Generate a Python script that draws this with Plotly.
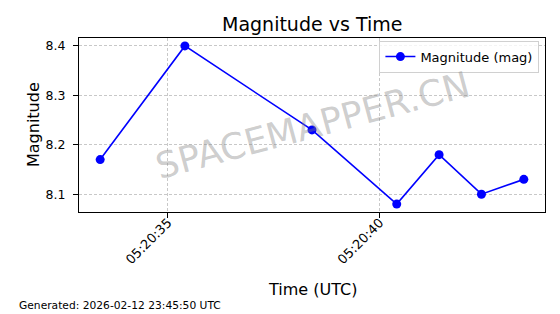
import plotly.graph_objects as go

times = ["2026-02-12 05:20:33.4", "2026-02-12 05:20:35.4", "2026-02-12 05:20:38.4",
         "2026-02-12 05:20:40.4", "2026-02-12 05:20:41.4", "2026-02-12 05:20:42.4",
         "2026-02-12 05:20:43.4"]
magnitudes = [8.17, 8.40, 8.23, 8.08, 8.18, 8.10, 8.13]
x_tick_vals = ["2026-02-12 05:20:35", "2026-02-12 05:20:40"]
x_tick_text = ["05:20:35", "05:20:40"]
y_tick_vals = [8.1, 8.2, 8.3, 8.4]
y_tick_text = ["8.1", "8.2", "8.3", "8.4"]

FONT = "DejaVu Sans"

fig = go.Figure()
fig.add_trace(go.Scatter(
    x=times, y=magnitudes, mode="lines+markers", name="Magnitude (mag)",
    line=dict(color="#0000ff", width=1.6),
    marker=dict(color="#0000ff", size=9),
))

fig.update_layout(
    width=560, height=314,
    margin=dict(l=79, r=15, t=38, b=102),
    paper_bgcolor="white", plot_bgcolor="white",
    font=dict(family=FONT, color="black", size=12),
    showlegend=True,
    legend=dict(x=0.988, y=0.985, xanchor="right", yanchor="top",
                bgcolor="rgba(255,255,255,0.8)", bordercolor="#d0d0d0", borderwidth=1,
                font=dict(size=13, family=FONT), itemwidth=30,
                tracegroupgap=0),
    xaxis=dict(
        type="date",
        range=["2026-02-12 05:20:32.9", "2026-02-12 05:20:43.9"],
        tickvals=x_tick_vals, ticktext=x_tick_text, tickangle=-45,
        showline=True, mirror=True, linecolor="black", linewidth=1,
        ticks="outside", ticklen=5, tickcolor="black",
        showgrid=True, gridcolor="#c8c8c8", griddash="3px,2px", gridwidth=0.8,
        zeroline=False, tickfont=dict(size=13, family=FONT),
        ticklabelstandoff=-8, automargin=False,
    ),
    yaxis=dict(
        range=[8.064, 8.416],
        tickvals=y_tick_vals, ticktext=y_tick_text,
        showline=True, mirror=True, linecolor="black", linewidth=1,
        ticks="outside", ticklen=5, tickcolor="black",
        showgrid=True, gridcolor="#c8c8c8", griddash="3px,2px", gridwidth=0.8,
        zeroline=False, tickfont=dict(size=12.5, family=FONT),
        ticklabelstandoff=5, automargin=False,
    ),
)

annotations = [
    dict(text="Magnitude vs Time", x=0.5, y=1, xref="paper", yref="paper",
         xanchor="center", yanchor="bottom", yshift=1, showarrow=False,
         font=dict(size=19, family=FONT)),
    dict(text="Magnitude", x=33, y=125, showarrow=False, textangle=-90,
         font=dict(size=16, family=FONT)),
    dict(text="Time (UTC)", x=312, y=289, showarrow=False,
         font=dict(size=16, family=FONT)),
    dict(text="Generated: 2026-02-12 23:45:50 UTC", x=17, y=305,
         xanchor="left", showarrow=False, font=dict(size=10.7, family=FONT)),
    dict(text="SPACEMAPPER.CN", x=0.5, y=0.5, showarrow=False, textangle=-15,
         font=dict(size=36, family=FONT, color="rgba(128,128,128,0.4)")),
]
# convert pixel positions to paper coordinates
pw, ph = 560 - 79 - 15, 314 - 38 - 102
for a in annotations:
    a["xref"] = "paper"
    a["yref"] = "paper"
    a.setdefault("xanchor", "center")
    a.setdefault("yanchor", "middle")
    if a["x"] > 1:
        a["x"] = (a["x"] - 79) / pw
    if a["y"] > 1:
        a["y"] = (314 - 102 - a["y"]) / ph
fig.update_layout(annotations=annotations)

fig.write_html("out.html")
